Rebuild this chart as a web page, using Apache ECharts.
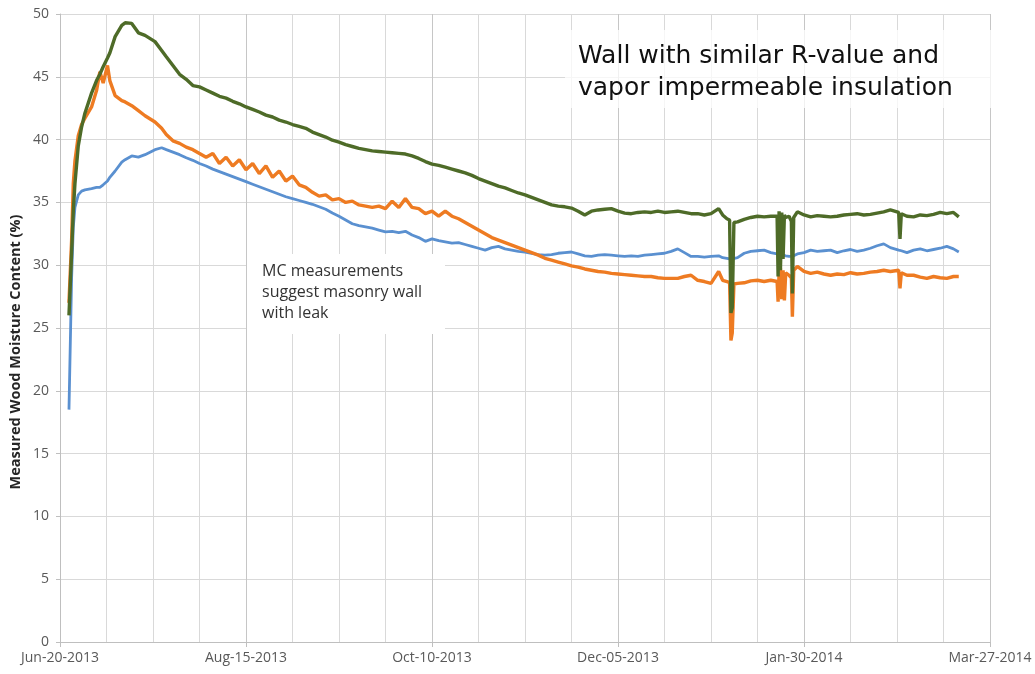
<!DOCTYPE html>
<html>
<head>
<meta charset="utf-8">
<title>Measured Wood Moisture Content</title>
<script src="https://cdn.jsdelivr.net/npm/echarts@6/dist/echarts.min.js"></script>
<style>
  html, body { margin: 0; padding: 0; background: #ffffff; }
  #chart { width: 1035px; height: 674px; }
</style>
</head>
<body>
<div id="chart"></div>
<script>
// Record start; x positions are days elapsed since this date
const startDate = Date.UTC(2013, 5, 20);

// Days since Jun-20-2013 for every reading
const dayOffsets = [
  2.7, 3.5, 4, 4.5, 5.5, 6.5, 7.5, 9.5, 11, 12,
  13, 14.3, 15, 16.6, 18.6, 19.6, 21.6, 23.6, 25.6, 28.6,
  30.6, 32, 34, 36, 38, 40, 42, 44, 46, 48,
  50, 52, 54, 56, 58, 60, 62, 64, 66, 68,
  70, 72, 74, 76, 78, 80, 82, 84, 86, 88,
  90, 92, 94, 96, 98, 100, 102, 104, 106, 108,
  110, 112, 114, 116, 118, 120, 122, 124, 126, 128,
  130, 132, 134, 136, 138, 140, 142, 144, 146, 148,
  150, 152, 154, 156, 158, 160, 162, 164, 166, 168,
  170, 172, 174, 176, 178, 180, 182, 184, 186, 188,
  190, 192, 194, 196, 198.3, 199.5, 200.8, 201.6, 202.0, 202.4,
  202.9, 204, 206, 208, 210, 212, 214, 215.9, 216.2, 216.5,
  216.9, 217.3, 217.7, 218.1, 218.5, 219.5, 220.2, 220.5, 220.9, 222,
  224, 226, 228, 230, 232, 234, 236, 238, 240, 242,
  244, 246, 248, 250, 252.5, 252.9, 253.3, 255, 257, 259,
  261, 263, 265, 267, 269, 270.6
];

// Moisture content (%) per sensor
const blueMC = [
  18.5, 29.0, 33.0, 34.6, 35.6, 35.9, 36.0, 36.1, 36.2, 36.2,
  36.4, 36.7, 37.0, 37.5, 38.2, 38.4, 38.7, 38.6, 38.8, 39.2,
  39.35, 39.2, 39.0, 38.8, 38.55, 38.35, 38.1, 37.9, 37.65, 37.45,
  37.25, 37.05, 36.85, 36.65, 36.45, 36.25, 36.05, 35.85, 35.65, 35.45,
  35.3, 35.15, 35.0, 34.85, 34.65, 34.45, 34.15, 33.9, 33.6, 33.3,
  33.15, 33.05, 32.95, 32.8, 32.65, 32.7, 32.6, 32.7, 32.4, 32.2,
  31.9, 32.1, 31.95, 31.85, 31.75, 31.8, 31.65, 31.5, 31.35, 31.2,
  31.4, 31.5, 31.3, 31.2, 31.1, 31.05, 30.95, 30.85, 30.8, 30.85,
  30.95, 31.0, 31.05, 30.9, 30.75, 30.7, 30.8, 30.85, 30.8, 30.75,
  30.7, 30.75, 30.7, 30.8, 30.85, 30.9, 30.95, 31.1, 31.3, 31.0,
  30.7, 30.7, 30.65, 30.7, 30.75, 30.6, 30.55, 30.5, 30.5, 30.5,
  30.55, 30.6, 30.95, 31.1, 31.15, 31.2, 31.0, 30.9, 30.9, 30.85,
  30.85, 30.8, 30.8, 30.75, 30.75, 30.7, 30.7, 30.7, 30.75, 30.9,
  31.0, 31.2, 31.1, 31.15, 31.2, 31.0, 31.15, 31.25, 31.1, 31.2,
  31.35, 31.55, 31.7, 31.4, 31.2, 31.2, 31.15, 31.0, 31.2, 31.3,
  31.15, 31.25, 31.35, 31.5, 31.3, 31.05
];

const orangeMC = [
  27, 32, 36.5, 38.3, 40.3, 41.2, 41.7, 42.6, 43.9, 45.4,
  44.5, 45.9, 44.7, 43.5, 43.1, 43.0, 42.7, 42.3, 41.9, 41.4,
  40.9, 40.4, 39.9, 39.7, 39.4, 39.2, 38.9, 38.6, 38.9, 38.1,
  38.6, 37.9, 38.4, 37.6, 38.1, 37.3, 37.9, 37.0, 37.5, 36.7,
  37.1, 36.4, 36.2, 35.8, 35.5, 35.6, 35.2, 35.3, 35.0, 35.1,
  34.8, 34.7, 34.6, 34.7, 34.5, 35.1, 34.6, 35.3, 34.6, 34.5,
  34.1, 34.3, 33.9, 34.3, 33.9, 33.7, 33.4, 33.1, 32.8, 32.5,
  32.2, 32.0, 31.8, 31.6, 31.4, 31.2, 31.0, 30.8, 30.55, 30.4,
  30.25, 30.1, 29.95, 29.85, 29.7, 29.6, 29.5, 29.45, 29.35, 29.3,
  29.25, 29.2, 29.15, 29.1, 29.1, 29.0, 28.95, 28.95, 28.95, 29.1,
  29.2, 28.8, 28.7, 28.55, 29.5, 28.8, 28.7, 28.6, 24.0, 24.6,
  28.5, 28.55, 28.6, 28.75, 28.8, 28.7, 28.8, 28.7, 27.1, 29.4,
  29.8, 27.3, 29.6, 27.2, 29.4, 29.2, 29.0, 25.9, 29.6, 29.9,
  29.5, 29.35, 29.45, 29.3, 29.2, 29.3, 29.25, 29.4, 29.3, 29.35,
  29.45, 29.5, 29.6, 29.5, 29.6, 28.15, 29.4, 29.2, 29.2, 29.05,
  28.95, 29.1, 29.0, 28.95, 29.1, 29.1
];

const greenMC = [
  26, 31, 34.3, 36.5, 39.5, 41.0, 42.1, 43.7, 44.7, 45.2,
  45.8, 46.5, 46.9, 48.2, 49.1, 49.3, 49.25, 48.5, 48.3, 47.8,
  47.1, 46.6, 45.9, 45.2, 44.8, 44.3, 44.2, 43.95, 43.7, 43.45,
  43.3, 43.05, 42.85, 42.6, 42.4, 42.2, 41.95, 41.8, 41.55, 41.4,
  41.2, 41.05, 40.9, 40.6, 40.4, 40.2, 39.95, 39.8, 39.6, 39.45,
  39.3, 39.2, 39.1, 39.05, 39.0, 38.95, 38.9, 38.85, 38.7, 38.5,
  38.25, 38.05, 37.95, 37.8, 37.65, 37.5, 37.35, 37.15, 36.9, 36.7,
  36.5, 36.3, 36.15, 35.95, 35.75, 35.6, 35.4, 35.2, 35.0, 34.8,
  34.7, 34.65, 34.55, 34.3, 34.0, 34.3, 34.4, 34.45, 34.5, 34.3,
  34.15, 34.1, 34.2, 34.25, 34.2, 34.3, 34.2, 34.25, 34.3, 34.2,
  34.1, 34.1, 34.0, 34.1, 34.5, 34.0, 33.7, 33.6, 26.2, 26.6,
  33.4, 33.45, 33.65, 33.8, 33.9, 33.85, 33.9, 33.9, 29.1, 34.3,
  29.6, 34.2, 30.5, 34.0, 33.8, 33.9, 33.5, 27.75, 33.8, 34.25,
  34.0, 33.85, 33.95, 33.9, 33.85, 33.9, 34.0, 34.05, 34.1, 34.0,
  34.05, 34.15, 34.25, 34.4, 34.2, 32.1, 34.1, 33.9, 33.85, 34.0,
  33.95, 34.05, 34.2, 34.1, 34.2, 33.85
];

// Axis ranges: days on x (minor grid every 14, labels every 56), % on y
const xRange = { min: 0, max: 280, minorStep: 14, labelStep: 56 };
const yRange = { min: 0, max: 50, step: 5 };

const yAxisTitle = 'Measured Wood Moisture Content (%)';
const headline = ['Wall with similar R-value and', 'vapor impermeable insulation'];
const note = ['MC measurements', 'suggest masonry wall', 'with leak'];

const MONTHS = ['Jan','Feb','Mar','Apr','May','Jun','Jul','Aug','Sep','Oct','Nov','Dec'];
function dayLabel(v) {
  const d = new Date(startDate + v * 86400000);
  const dd = String(d.getUTCDate()).padStart(2, '0');
  return MONTHS[d.getUTCMonth()] + '-' + dd + '-' + d.getUTCFullYear();
}

const pairs = vals => dayOffsets.map((d, i) => [d, vals[i]]);

const labelFont = { fontFamily: 'Open Sans', fontSize: 14, color: '#595959' };

const chart = echarts.init(document.getElementById('chart'), null, { renderer: 'canvas' });
chart.setOption({
  animation: false,
  backgroundColor: '#ffffff',
  grid: { left: 60, right: 45, top: 14, bottom: 32 },
  xAxis: [
    {
      type: 'value',
      min: xRange.min, max: xRange.max, interval: xRange.minorStep,
      axisLine: { show: true, lineStyle: { color: '#bfbfbf', width: 1 } },
      axisTick: { show: false },
      axisLabel: { show: false },
      splitLine: { show: true, lineStyle: { color: '#d9d9d9', width: 1 } }
    },
    {
      type: 'value',
      position: 'bottom',
      min: xRange.min, max: xRange.max, interval: xRange.labelStep,
      axisLine: { show: false },
      axisTick: { show: true, length: 5, lineStyle: { color: '#bfbfbf' } },
      axisLabel: Object.assign({ margin: 9, formatter: dayLabel }, labelFont),
      splitLine: { show: true, lineStyle: { color: '#c6c6c6', width: 1 } }
    }
  ],
  yAxis: {
    type: 'value',
    min: yRange.min, max: yRange.max, interval: yRange.step,
    axisLine: { show: true, lineStyle: { color: '#bfbfbf' } },
    axisTick: { show: true, length: 4, lineStyle: { color: '#bfbfbf' } },
    axisLabel: Object.assign({ margin: 11 }, labelFont),
    splitLine: { show: true, lineStyle: { color: '#d9d9d9', width: 1 } }
  },
  series: [
    {
      name: 'blue', type: 'line', xAxisIndex: 0, showSymbol: false, z: 2,
      data: pairs(blueMC),
      lineStyle: { color: '#5a90d0', width: 2.8 }
    },
    {
      name: 'orange', type: 'line', xAxisIndex: 0, showSymbol: false, z: 3,
      data: pairs(orangeMC),
      lineStyle: { color: '#ee7b22', width: 3.4 }
    },
    {
      name: 'green', type: 'line', xAxisIndex: 0, showSymbol: false, z: 4,
      data: pairs(greenMC),
      lineStyle: { color: '#4e6b28', width: 3.4 }
    }
  ],
  graphic: [
    {
      type: 'text', x: 16, y: 352, rotation: Math.PI / 2, z: 10,
      style: {
        text: yAxisTitle, x: 0, y: 0,
        font: 'bold 14.5px "Open Sans"', fill: '#262626',
        textAlign: 'center', textVerticalAlign: 'middle'
      }
    },
    {
      type: 'rect', z: 5,
      shape: { x: 565, y: 30, width: 435, height: 78 },
      style: { fill: 'rgba(255,255,255,0.75)' }
    },
    {
      type: 'text', x: 578, y: 56, z: 10,
      style: { text: headline[0], font: '25px "DejaVu Sans"', fill: '#111111', textVerticalAlign: 'middle' }
    },
    {
      type: 'text', x: 578, y: 88.5, z: 10,
      style: { text: headline[1], font: '25px "DejaVu Sans"', fill: '#111111', textVerticalAlign: 'middle' }
    },
    {
      type: 'rect', z: 5,
      shape: { x: 247, y: 254, width: 198, height: 80 },
      style: { fill: '#ffffff' }
    },
    {
      type: 'text', x: 262, y: 271, z: 10,
      style: { text: note[0], font: '16px "Open Sans"', fill: '#333333', textVerticalAlign: 'middle' }
    },
    {
      type: 'text', x: 262, y: 292, z: 10,
      style: { text: note[1], font: '16px "Open Sans"', fill: '#333333', textVerticalAlign: 'middle' }
    },
    {
      type: 'text', x: 262, y: 313, z: 10,
      style: { text: note[2], font: '16px "Open Sans"', fill: '#333333', textVerticalAlign: 'middle' }
    }
  ]
});
</script>
</body>
</html>
